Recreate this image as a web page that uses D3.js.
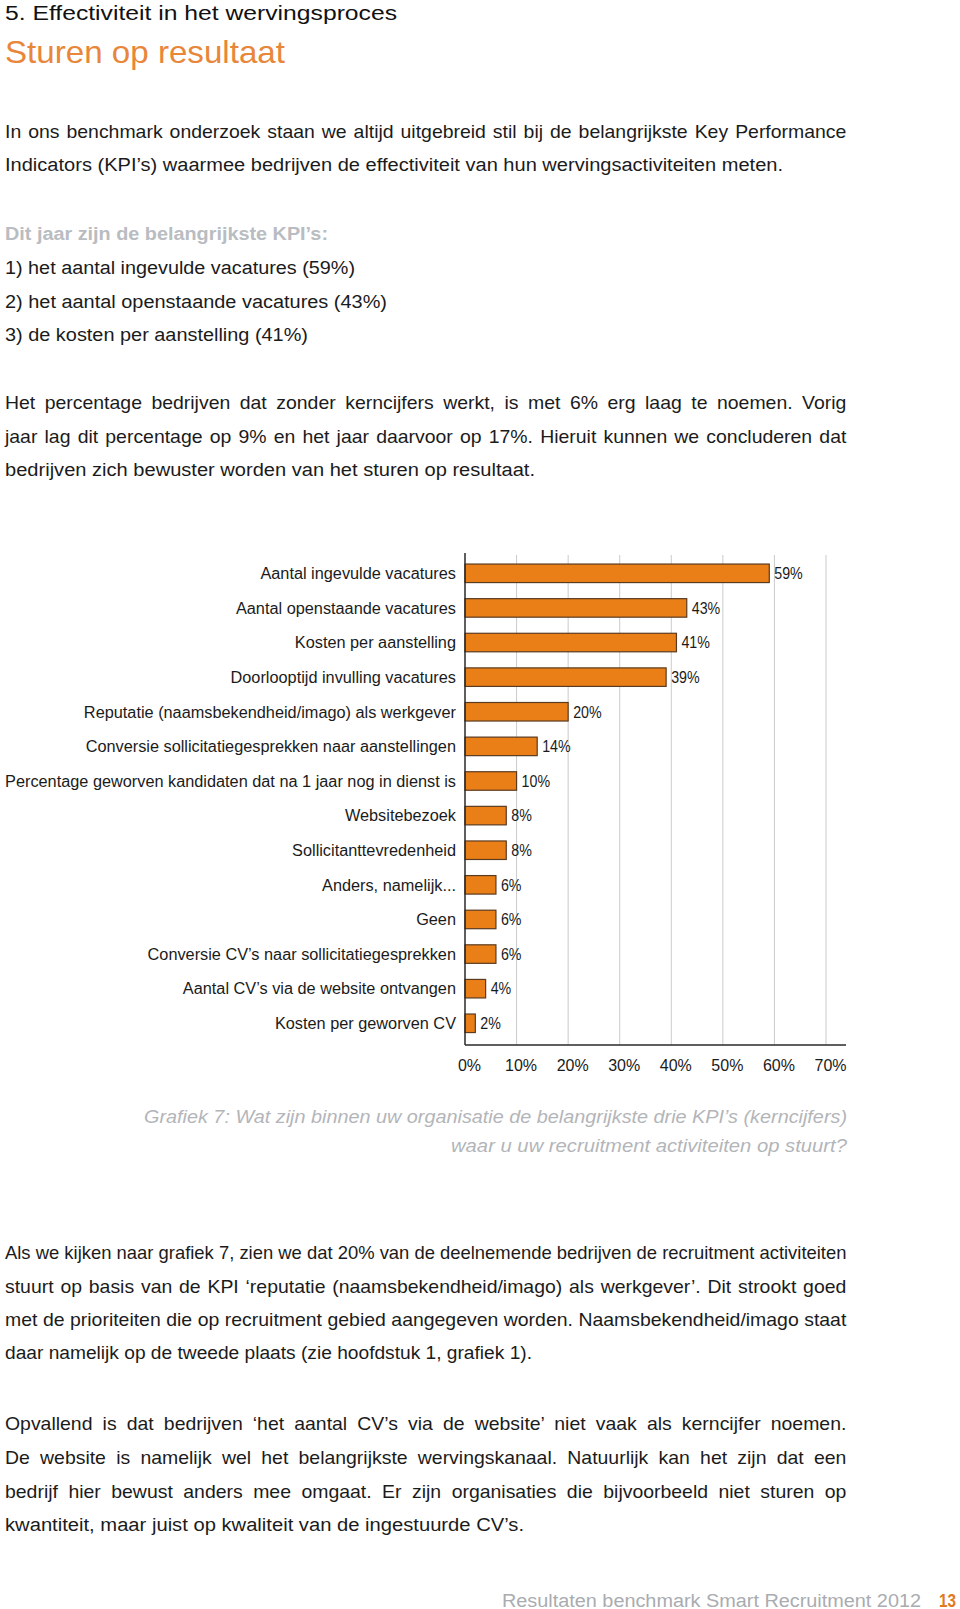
<!DOCTYPE html>
<html><head><meta charset="utf-8">
<script src="https://cdn.jsdelivr.net/npm/d3@7"></script>
<style>body{margin:0;background:#fff}svg{display:block}</style>
</head><body>
<svg id="c" width="960" height="1609"></svg>
<script>
// ---------- data ----------
const categories = [
  "Aantal ingevulde vacatures",
  "Aantal openstaande vacatures",
  "Kosten per aanstelling",
  "Doorlooptijd invulling vacatures",
  "Reputatie (naamsbekendheid/imago) als werkgever",
  "Conversie sollicitatiegesprekken naar aanstellingen",
  "Percentage geworven kandidaten dat na 1 jaar nog in dienst is",
  "Websitebezoek",
  "Sollicitanttevredenheid",
  "Anders, namelijk...",
  "Geen",
  "Conversie CV’s naar sollicitatiegesprekken",
  "Aantal CV’s via de website ontvangen",
  "Kosten per geworven CV"
];
const values = [59, 43, 41, 39, 20, 14, 10, 8, 8, 6, 6, 6, 4, 2];
const xTicks = [0, 10, 20, 30, 40, 50, 60, 70];
const tickLabels = ["0%", "10%", "20%", "30%", "40%", "50%", "60%", "70%"];

const heading = "5. Effectiviteit in het wervingsproces";
const pageTitle = "Sturen op resultaat";
const para1 = [
  "In ons benchmark onderzoek staan we altijd uitgebreid stil bij de belangrijkste Key Performance",
  "Indicators (KPI’s) waarmee bedrijven de effectiviteit van hun wervingsactiviteiten meten."
];
const kpiHead = "Dit jaar zijn de belangrijkste KPI’s:";
const kpiList = [
  "1) het aantal ingevulde vacatures (59%)",
  "2) het aantal openstaande vacatures (43%)",
  "3) de kosten per aanstelling (41%)"
];
const para2 = [
  "Het percentage bedrijven dat zonder kerncijfers werkt, is met 6% erg laag te noemen. Vorig",
  "jaar lag dit percentage op 9% en het jaar daarvoor op 17%. Hieruit kunnen we concluderen dat",
  "bedrijven zich bewuster worden van het sturen op resultaat."
];
const caption = [
  "Grafiek 7: Wat zijn binnen uw organisatie de belangrijkste drie KPI’s (kerncijfers)",
  "waar u uw recruitment activiteiten op stuurt?"
];
const para3 = [
  "Als we kijken naar grafiek 7, zien we dat 20% van de deelnemende bedrijven de recruitment activiteiten",
  "stuurt op basis van de KPI ‘reputatie (naamsbekendheid/imago) als werkgever’. Dit strookt goed",
  "met de prioriteiten die op recruitment gebied aangegeven worden. Naamsbekendheid/imago staat",
  "daar namelijk op de tweede plaats (zie hoofdstuk 1, grafiek 1)."
];
const para4 = [
  "Opvallend is dat bedrijven ‘het aantal CV’s via de website’ niet vaak als kerncijfer noemen.",
  "De website is namelijk wel het belangrijkste wervingskanaal. Natuurlijk kan het zijn dat een",
  "bedrijf hier bewust anders mee omgaat. Er zijn organisaties die bijvoorbeeld niet sturen op",
  "kwantiteit, maar juist op kwaliteit van de ingestuurde CV’s."
];
const footerText = "Resultaten benchmark Smart Recruitment 2012";
const pageNumber = "13";

// ---------- drawing ----------
const svg = d3.select("#c");
svg.append("rect").attr("width", 960).attr("height", 1609).attr("fill", "#fff");
const FONT = "'Liberation Sans', Arial, Helvetica, sans-serif";
const ORANGE = "#e8863a";
const SX = 1.08; // horizontal glyph widening to mimic Helvetica Neue

function text(x, y, str, size, fill, opts = {}) {
  const t = svg.append("text")
    .attr("x", x).attr("y", y)
    .attr("font-family", FONT)
    .attr("font-size", size)
    .attr("fill", fill)
    .attr("font-weight", opts.weight || "normal")
    .attr("font-style", opts.style || "normal")
    .attr("text-anchor", opts.anchor || "start")
    .text(str);
  if (opts.width) {
    const node = t.node();
    const w = node.getComputedTextLength();
    const n = (str.match(/ /g) || []).length;
    const target = opts.width;
    if (opts.justify && n) {
      const s = Math.min(SX, target / w);
      t.attr("x", 0).attr("y", 0)
        .attr("transform", `translate(${x},${y}) scale(${s},1)`)
        .style("word-spacing", ((target / s - w) / n) + "px");
    } else {
      t.attr("textLength", target).attr("lengthAdjust", "spacingAndGlyphs");
    }
  }
  return t;
}

const L = 5, R = 847, BODY = 18, INK = "#1b1b1b";

text(L, 20, heading, 20, "#111", { width: 392 });
text(L, 63, pageTitle, 32, ORANGE, { width: 280 });

// paragraph 1
text(L, 137.5, para1[0], BODY, INK, { width: R - L, justify: true });
text(L, 171.3, para1[1], BODY, INK, { width: 778 });

// KPI list
text(L, 240, kpiHead, BODY, "#b9bcc1", { weight: "bold", width: 323 });
const kpiW = [350, 382, 303];
kpiList.forEach((s, i) => text(L, 274 + i * 33.6, s, BODY, INK, { width: kpiW[i] }));

// paragraph 2
const p2y = [409.3, 442.6, 475.8];
text(L, p2y[0], para2[0], BODY, INK, { width: R - L, justify: true });
text(L, p2y[1], para2[1], BODY, INK, { width: R - L, justify: true });
text(L, p2y[2], para2[2], BODY, INK, { width: 530 });

// ---------- chart ----------
const x = d3.scaleLinear().domain([0, 70]).range([465, 826]);
const y = d3.scaleBand().domain(categories).range([556, 1040.6])
  .paddingInner(0.465).paddingOuter(0.2325);
const axisY = 1045;

const g = svg.append("g");
// gridlines
g.selectAll("line.grid").data(xTicks.slice(1)).join("line")
  .attr("class", "grid")
  .attr("x1", d => x(d)).attr("x2", d => x(d))
  .attr("y1", 555).attr("y2", axisY)
  .attr("stroke", "#cbcbcb").attr("stroke-width", 1);

// bars
g.selectAll("rect.bar").data(values).join("rect")
  .attr("class", "bar")
  .attr("x", x(0))
  .attr("y", (d, i) => y(categories[i]))
  .attr("width", d => x(d) - x(0))
  .attr("height", y.bandwidth())
  .attr("fill", "#ea7f17")
  .attr("stroke", "#5a3b20").attr("stroke-width", 1.2);

// value labels (slightly condensed)
g.selectAll("text.val").data(values).join("text")
  .attr("class", "val")
  .attr("x", d => x(d) + 5)
  .attr("y", (d, i) => y(categories[i]) + y.bandwidth() / 2)
  .attr("dy", "0.36em")
  .attr("font-family", FONT).attr("font-size", 16)
  .attr("fill", "#1b1b1b")
  .text(d => d + "%")
  .each(function () {
    const w = this.getComputedTextLength();
    d3.select(this).attr("textLength", w * 0.89).attr("lengthAdjust", "spacingAndGlyphs");
  });

// category labels
g.selectAll("text.cat").data(categories).join("text")
  .attr("class", "cat")
  .attr("x", 456)
  .attr("y", d => y(d) + y.bandwidth() / 2)
  .attr("dy", "0.36em")
  .attr("text-anchor", "end")
  .attr("font-family", FONT).attr("font-size", 16)
  .attr("fill", "#1b1b1b")
  .text(d => d)
  .each(function () {
    const w = this.getComputedTextLength();
    d3.select(this).attr("textLength", w * 1.018).attr("lengthAdjust", "spacingAndGlyphs");
  });

// x axis labels
const xAxis = d3.axisBottom(x).tickValues(xTicks).tickSize(0)
  .tickFormat((d, i) => tickLabels[i]);
const ax = g.append("g").attr("transform", `translate(0,${axisY})`).call(xAxis);
ax.select(".domain").remove();
ax.selectAll("text")
  .attr("y", 26).attr("dy", 0).attr("dx", 4)
  .attr("font-family", FONT).attr("font-size", 16).attr("fill", "#1b1b1b");

// axis lines
g.append("line").attr("x1", x(0)).attr("x2", 846).attr("y1", axisY).attr("y2", axisY)
  .attr("stroke", "#2a2a2a").attr("stroke-width", 1.5);
g.append("line").attr("x1", x(0)).attr("x2", x(0)).attr("y1", 553).attr("y2", axisY)
  .attr("stroke", "#2a2a2a").attr("stroke-width", 1.5);

// caption
text(R, 1122.7, caption[0], BODY, "#b3b5b9", { style: "italic", anchor: "end", width: 703 });
text(R, 1152.4, caption[1], BODY, "#b3b5b9", { style: "italic", anchor: "end", width: 396 });

// paragraph 3
const p3y = [1259.3, 1292.8, 1326.3, 1359];
para3.forEach((s, i) => {
  if (i < 3) text(L, p3y[i], s, BODY, INK, { width: R - L, justify: true });
  else text(L, p3y[i], s, BODY, INK, { width: 527 });
});

// paragraph 4
const p4y = [1429.7, 1463.6, 1497.5, 1531.3];
para4.forEach((s, i) => {
  if (i < 3) text(L, p4y[i], s, BODY, INK, { width: R - L, justify: true });
  else text(L, p4y[i], s, BODY, INK, { width: 519 });
});

// footer
text(921, 1606.5, footerText, 18, "#a9acb0", { anchor: "end", width: 419 });
text(956, 1606.5, pageNumber, 18, "#e07a1c", { anchor: "end", weight: "bold", width: 17 });
</script>
</body></html>
